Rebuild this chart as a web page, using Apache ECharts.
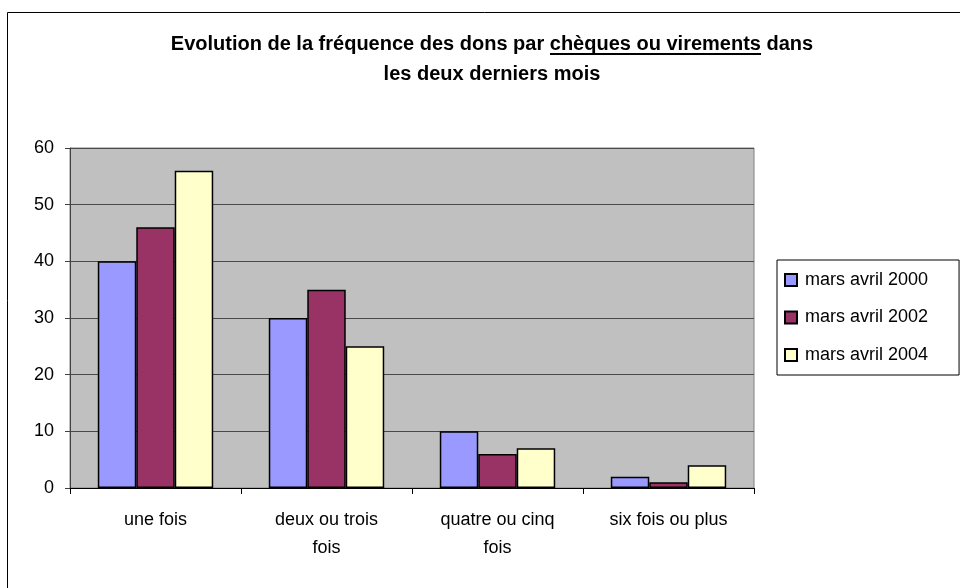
<!DOCTYPE html>
<html>
<head>
<meta charset="utf-8">
<script src="https://cdn.jsdelivr.net/npm/echarts@6/dist/echarts.min.js"></script>
<style>
  html, body { margin: 0; padding: 0; background: #fff; }
  #chart { width: 960px; height: 588px; }
</style>
</head>
<body>
<div id="chart"></div>
<script>
// données
var categories = ['une fois', 'deux ou trois\nfois', 'quatre ou cinq\nfois', 'six fois ou plus'];
var seriesNames = ['mars avril 2000', 'mars avril 2002', 'mars avril 2004'];
var mars2000 = [40, 30, 10, 2];
var mars2002 = [46, 35, 6, 1];
var mars2004 = [56, 25, 7, 4];
var yTicks = [0, 10, 20, 30, 40, 50, 60];

var font = 'Liberation Sans, Arial, sans-serif';
var colors = ['#9999ff', '#993366', '#ffffcc'];
var values = [mars2000, mars2002, mars2004];

var chart = echarts.init(document.getElementById('chart'));

var option = {
  animation: false,
  backgroundColor: '#fff',
  title: {
    text: 'Evolution de la fréquence des dons par chèques ou virements dans\nles deux derniers mois',
    left: 487,
    top: 24,
    textAlign: 'center',
    textStyle: {
      fontFamily: font,
      fontSize: 20,
      fontWeight: 'bold',
      color: '#000',
      lineHeight: 30
    }
  },
  legend: {
    orient: 'vertical',
    left: 777,
    top: 260,
    data: seriesNames,
    icon: 'rect',
    itemWidth: 12,
    itemHeight: 12,
    itemGap: 19.5,
    borderColor: '#000',
    borderWidth: 1,
    padding: [11, 31, 11, 7],
    textStyle: {
      fontFamily: font,
      fontSize: 18,
      color: '#000',
      padding: [0, 0, 0, 3]
    }
  },
  grid: {
    left: 70,
    right: 206,
    top: 148,
    bottom: 100,
    show: true,
    backgroundColor: '#c0c0c0',
    borderColor: '#808080',
    borderWidth: 1
  },
  xAxis: {
    type: 'category',
    data: categories,
    axisLine: { lineStyle: { color: '#000', width: 1 } },
    axisTick: { show: true, length: 6, lineStyle: { color: '#000' } },
    axisLabel: {
      fontFamily: font,
      fontSize: 18,
      color: '#000',
      lineHeight: 28,
      margin: 18,
      interval: 0
    }
  },
  yAxis: {
    type: 'value',
    min: yTicks[0],
    max: yTicks[yTicks.length - 1],
    interval: 10,
    axisLine: { show: true, lineStyle: { color: '#404040', width: 1 } },
    axisTick: { show: true, length: 5, lineStyle: { color: '#404040' } },
    splitLine: { lineStyle: { color: '#4a4a4a', width: 1 } },
    axisLabel: {
      fontFamily: font,
      fontSize: 18,
      color: '#000',
      margin: 16
    }
  },
  series: seriesNames.map(function (name, i) {
    return {
      name: name,
      type: 'bar',
      data: values[i],
      barGap: '0%',
      barCategoryGap: '32.5%',
      itemStyle: {
        color: colors[i],
        borderColor: '#000',
        borderWidth: 1.5
      }
    };
  }),
  graphic: [
    {
      type: 'rect',
      shape: { x: 7.5, y: 12.5, width: 1000, height: 1000 },
      style: { fill: 'none', stroke: '#000', lineWidth: 1 },
      silent: true
    },
    {
      // soulignement de « chèques ou virements »
      type: 'line',
      shape: { x1: 550, y1: 54, x2: 761, y2: 54 },
      style: { stroke: '#000', lineWidth: 2 },
      silent: true
    }
  ]
};

chart.setOption(option);
</script>
</body>
</html>
